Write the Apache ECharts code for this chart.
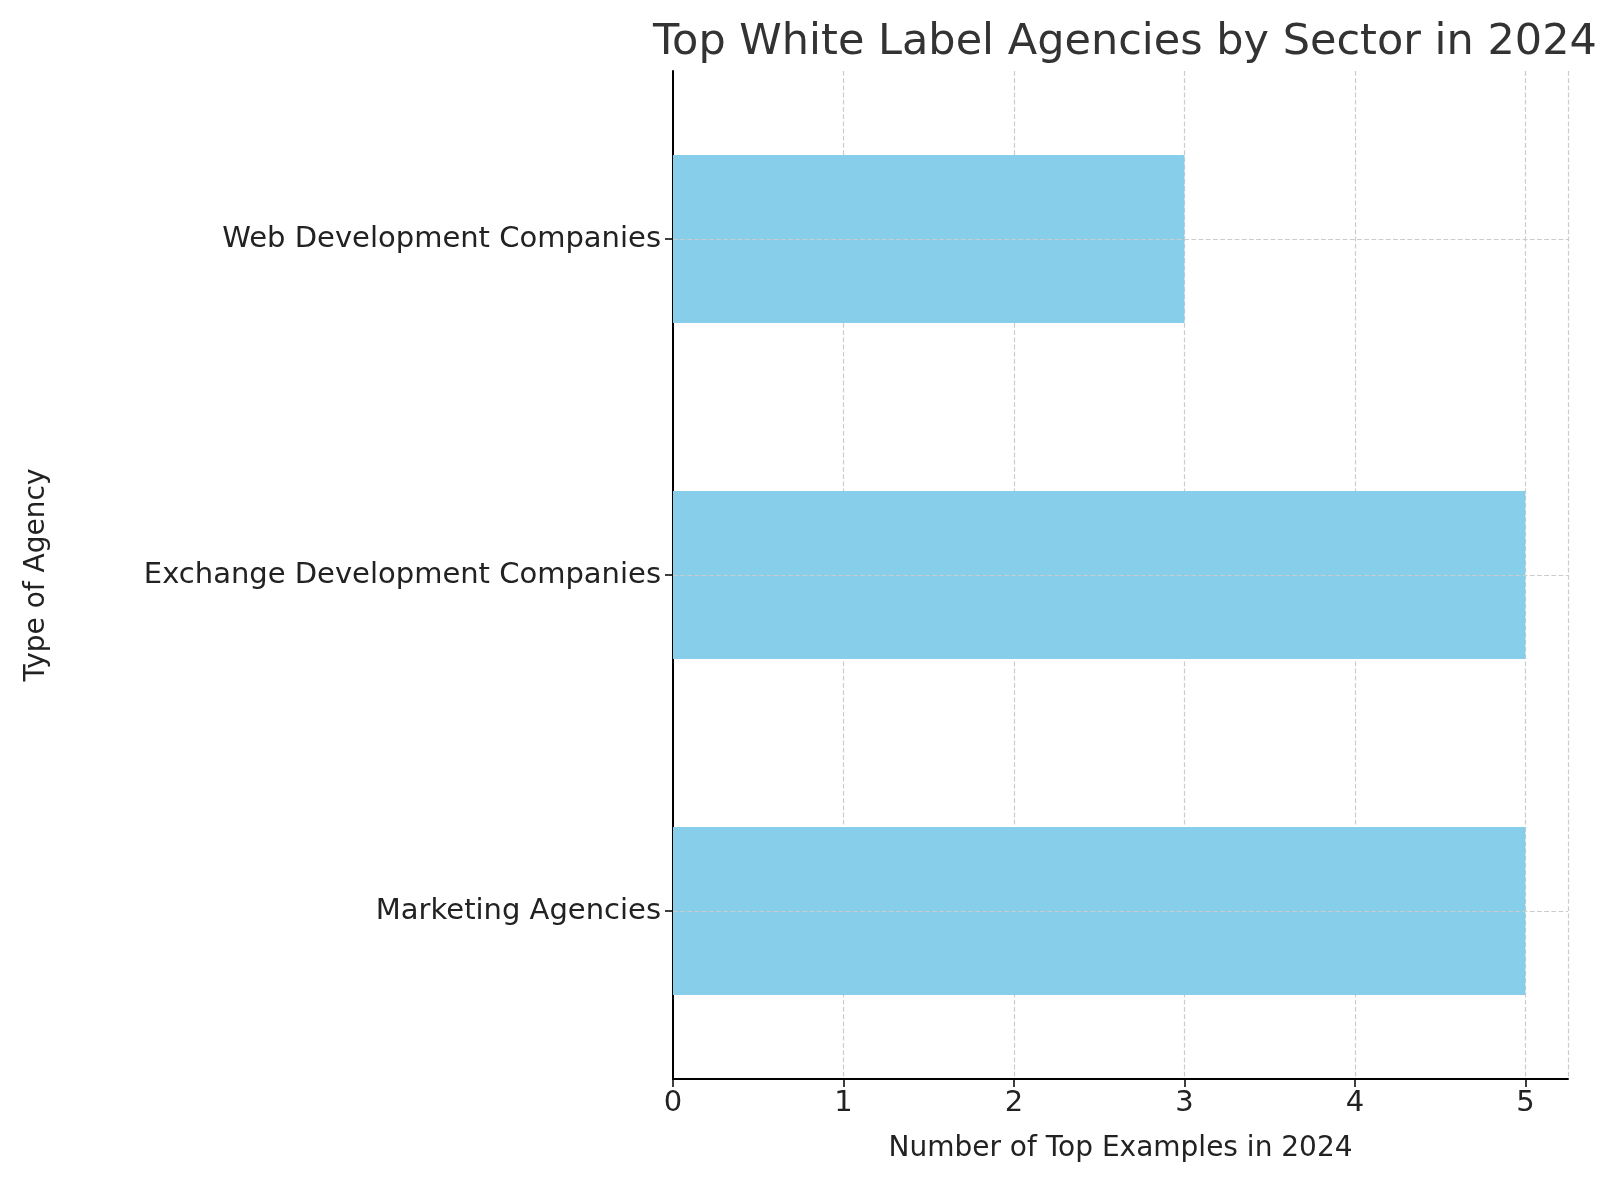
<!DOCTYPE html>
<html>
<head>
<meta charset="utf-8">
<script src="https://cdn.jsdelivr.net/npm/echarts@6/dist/echarts.min.js"></script>
<style>html,body{margin:0;padding:0;background:#fff}#chart{width:1622px;height:1180px}</style>
</head>
<body>
<div id="chart"></div>
<script>
var categories = ['Marketing Agencies', 'Exchange Development Companies', 'Web Development Companies'];
var values = [5, 5, 3];
var xTicks = [0, 1, 2, 3, 4, 5];

var myChart = echarts.init(document.getElementById('chart'));
var font = 'DejaVu Sans';
var option = {
    animation: false,
    title: {
        text: 'Top White Label Agencies by Sector in 2024',
        left: 1120, top: 16, textAlign: 'center',
        textStyle: { fontFamily: font, fontSize: 43, fontWeight: 'normal', color: '#333' }
    },
    grid: { left: 673, right: 54, top: 71, bottom: 101 },
    xAxis: {
        type: 'value', min: 0, max: 5.25, interval: 1,
        name: 'Number of Top Examples in 2024', nameLocation: 'middle', nameGap: 56,
        nameTextStyle: { fontFamily: font, fontSize: 28, color: '#222' },
        axisLine: { show: true, lineStyle: { color: '#000', width: 2 } },
        axisTick: { show: true, length: 8, lineStyle: { color: '#000', width: 1.5 } },
        axisLabel: {
            fontFamily: font, fontSize: 29, color: '#222', margin: 10, showMaxLabel: false,
            formatter: function (v) { return xTicks.indexOf(v) >= 0 ? String(v) : ''; }
        },
        splitLine: { show: true, lineStyle: { color: '#ccc', type: 'dashed', width: 1.2 } }
    },
    yAxis: {
        type: 'category', data: categories,
        name: 'Type of Agency', nameLocation: 'middle', nameGap: 622, nameRotate: 90,
        nameTextStyle: { fontFamily: font, fontSize: 28, color: '#222' },
        axisLine: { show: true, lineStyle: { color: '#000', width: 2 } },
        axisTick: { show: true, alignWithLabel: true, length: 8, lineStyle: { color: '#000', width: 1.5 } },
        axisLabel: { fontFamily: font, fontSize: 29, color: '#222', margin: 12 },
        splitLine: { show: false }
    },
    series: [
        {
            type: 'line', data: [], z: 1, silent: true, showSymbol: false,
            markLine: {
                symbol: 'none', silent: true, label: { show: false },
                lineStyle: { color: '#ccc', type: 'dashed', width: 1.2 },
                data: categories.map(function (c) { return { yAxis: c }; })
            }
        },
        {
            type: 'bar', data: values, z: 3, barWidth: '50%',
            itemStyle: { color: '#87ceeb' }
        }
    ]
};
myChart.setOption(option);
</script>
</body>
</html>
